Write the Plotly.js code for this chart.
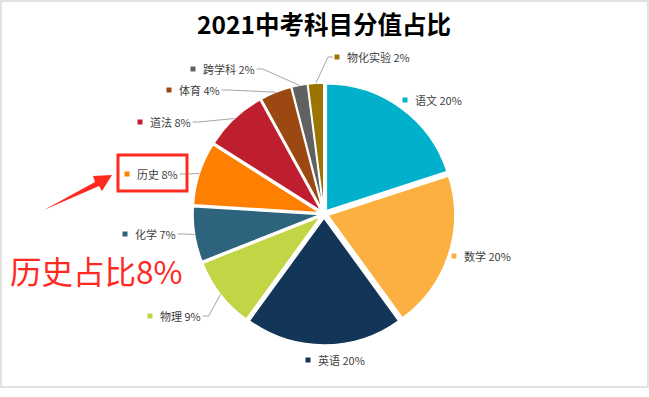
<!DOCTYPE html>
<html><head><meta charset="utf-8">
<script src="https://cdn.plot.ly/plotly-3.0.1.min.js"></script>
<style>html,body{margin:0;padding:0;background:#fff}#chart{width:649px;height:397px}</style>
</head><body><div id="chart"></div>
<script>
// ---- data ----
const subjects = ['语文','数学','英语','物理','化学','历史','道法','体育','跨学科','物化实验'];
const shares = [20,20,20,9,7,8,8,4,2,2];
const colors = ['#01B1CC','#FDB042','#123558','#C1D545','#2E637E','#FF7F00','#BE1E2D','#9C4812','#616161','#9B7500'];
const titleText = '2021中考科目分值占比';
const calloutText = '历史占比8%';
const calloutSubject = '历史';

// ---- layout (pixels) ----
const W = 649, H = 397;
const labelAt = [[405,100],[454,256],[308,360],[150,316],[125,234],[127,174],[140,122],[169,90],[193,69],[337,57]];
const hasLeader = [false,false,false,true,true,true,true,true,true,true];
const pieCx = 324, pieCy = 214, pieSide = 262, pull = 0.0315;
const FONT = '"Noto Sans CJK SC", "Noto Sans", sans-serif';
const px = x => x / W, py = y => 1 - y / H;

const total = shares.reduce((a, b) => a + b, 0);
const r = pieSide / (2 + 2 * pull);
const rOut = r * (1 + pull);

const canvas = document.createElement('canvas');
const ctx = canvas.getContext('2d');
ctx.font = '11px ' + FONT;

const annotations = [];
const shapes = [];
let cum = 0;
shares.forEach((v, i) => {
  const mid = (cum + v / 2) / total * 2 * Math.PI;
  cum += v;
  const ex = pieCx + rOut * Math.sin(mid), ey = pieCy - rOut * Math.cos(mid);
  const [mx, my] = labelAt[i];
  const txt = subjects[i] + ' ' + Math.round(v / total * 100) + '%';
  annotations.push({xref:'paper', yref:'paper', x:px(mx + 8), y:py(my), xanchor:'left', yanchor:'middle',
    text: txt, showarrow:false, font:{family:FONT, size:11, color:'#404040'}});
  shapes.push({type:'rect', xref:'paper', yref:'paper', x0:px(mx - 2.5), x1:px(mx + 2.5), y0:py(my - 2.5), y1:py(my + 2.5),
    fillcolor: colors[i], line:{width:0}});
  if (hasLeader[i]) {
    const tw = ctx.measureText(txt).width;
    let sx, elx;
    if (mx < ex) { sx = mx + 8 + tw + 4; elx = sx + 6; }
    else { sx = mx - 4; elx = sx - 5; }
    shapes.push({type:'path', xref:'paper', yref:'paper',
      path:`M ${px(ex)} ${py(ey)} L ${px(elx)} ${py(my)} L ${px(sx)} ${py(my)}`,
      line:{color:'#A6A6A6', width:1}});
  }
});

// callout decorations
shapes.push({type:'rect', xref:'paper', yref:'paper', x0:px(118), x1:px(187), y0:py(155), y1:py(191),
  line:{color:'#FF2A1F', width:3}, fillcolor:'rgba(0,0,0,0)'});
shapes.push({type:'path', xref:'paper', yref:'paper',
  path:`M ${px(44)} ${py(210)} L ${px(95)} ${py(182)} L ${px(93)} ${py(176)} L ${px(112)} ${py(175)} L ${px(102)} ${py(191)} L ${px(99)} ${py(186)} Z`,
  fillcolor:'#FF2A1F', line:{width:0}});
annotations.push({xref:'paper', yref:'paper', x:px(8), y:py(270), xanchor:'left', yanchor:'middle',
  text: calloutText, showarrow:false, font:{family:FONT, size:31.5, color:'#FF2A1F'}});
// border
shapes.push({type:'rect', xref:'paper', yref:'paper', x0:px(1), x1:px(648), y0:py(1), y1:py(387),
  line:{color:'#D9D9D9', width:1.5}, fillcolor:'rgba(0,0,0,0)'});

const trace = {
  type:'pie', labels:subjects, values:shares, sort:false, direction:'clockwise', rotation:0,
  marker:{colors:colors, line:{color:'#ffffff', width:1.5}},
  pull: shares.map(() => pull), textinfo:'none', hoverinfo:'label+percent',
  domain:{x:[px(pieCx - pieSide/2), px(pieCx + pieSide/2)], y:[py(pieCy + pieSide/2), py(pieCy - pieSide/2)]}
};

const layout = {
  width:W, height:H, margin:{l:0, r:0, t:0, b:0}, showlegend:false,
  paper_bgcolor:'#ffffff',
  title:{text:titleText, x:px(324), xanchor:'center', y:py(25), yanchor:'middle', yref:'container',
    font:{family:FONT, size:24.5, color:'#000000', weight:700}},
  annotations, shapes
};
Plotly.newPlot('chart', [trace], layout, {displayModeBar:false, staticPlot:true});
</script></body></html>
